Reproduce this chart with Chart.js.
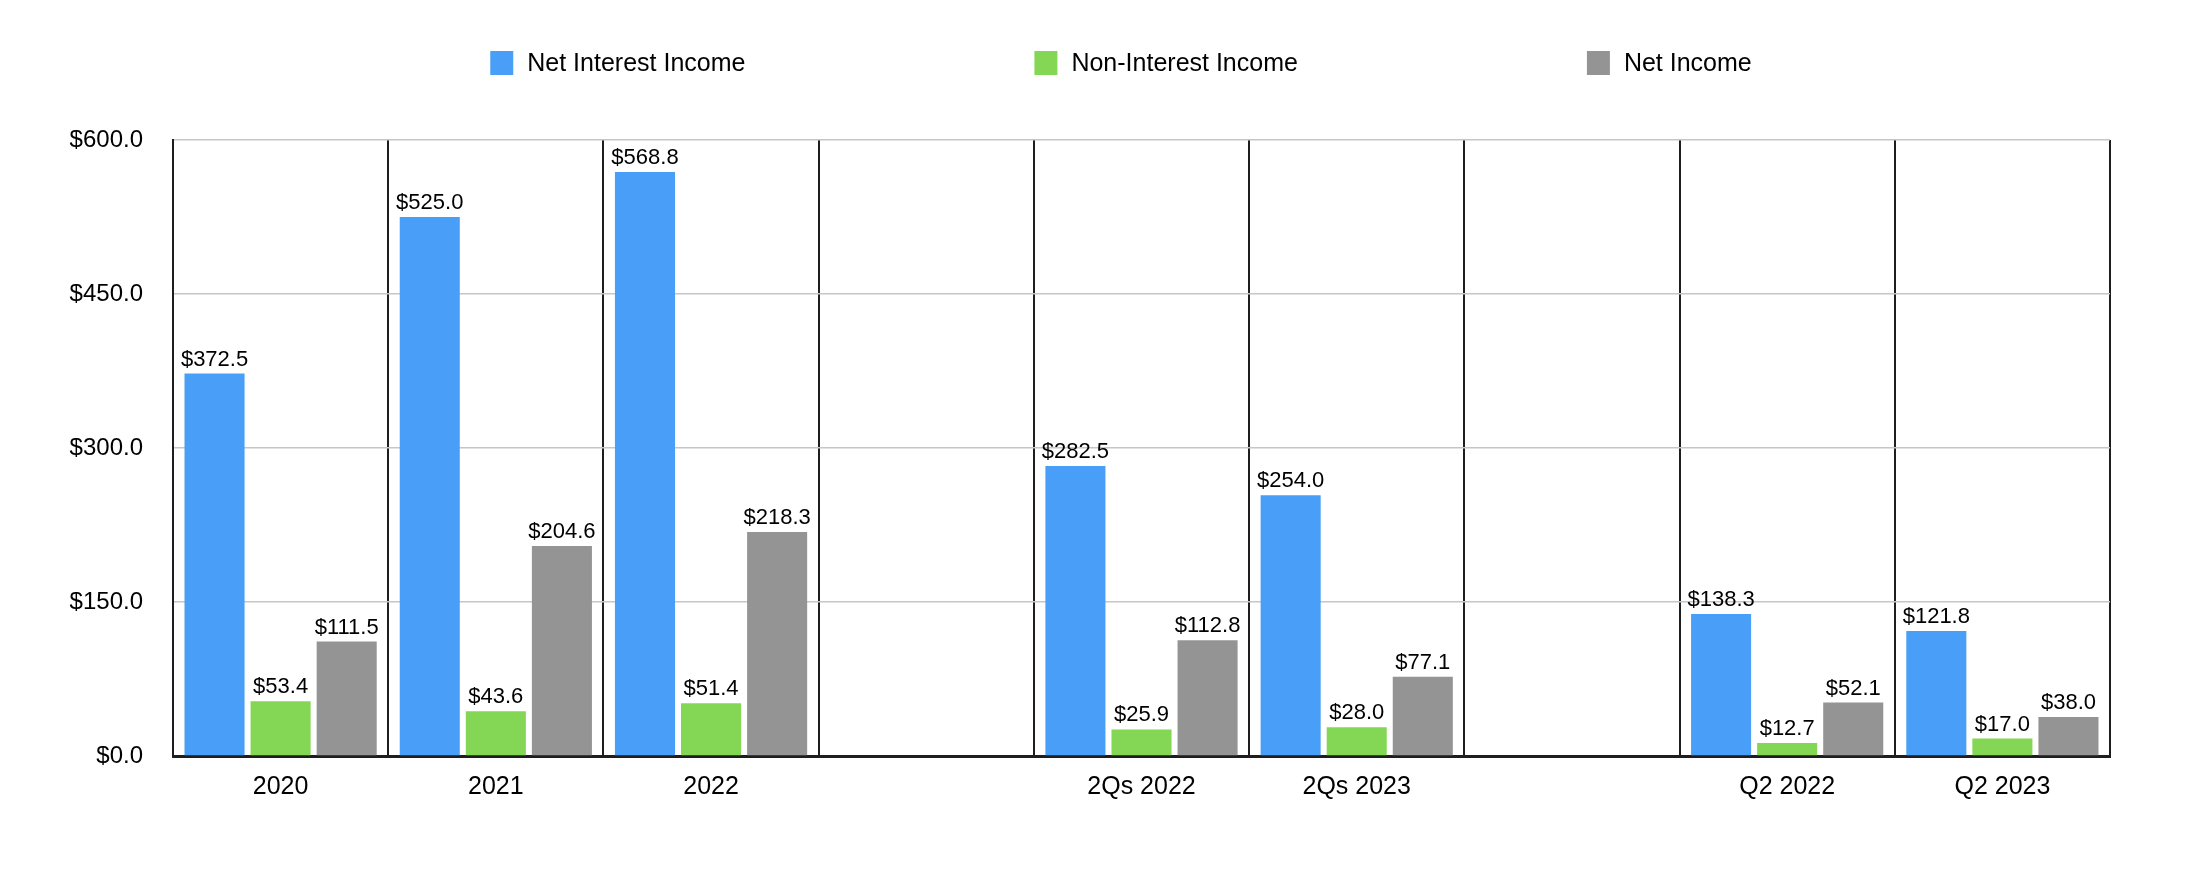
<!DOCTYPE html>
<html>
<head>
<meta charset="utf-8">
<script src="https://cdn.jsdelivr.net/npm/chart.js@4.4.0/dist/chart.umd.min.js"></script>
<style>
  html, body { margin: 0; padding: 0; background: #ffffff; }
  #wrap { position: relative; width: 2198px; height: 878px; }
</style>
</head>
<body>
<div id="wrap"><canvas id="c"></canvas></div>
<script>
const categories = ['2020', '2021', '2022', '', '2Qs 2022', '2Qs 2023', ' ', 'Q2 2022', 'Q2 2023'];
const netInterestIncome = [372.5, 525.0, 568.8, null, 282.5, 254.0, null, 138.3, 121.8];
const nonInterestIncome = [53.4, 43.6, 51.4, null, 25.9, 28.0, null, 12.7, 17.0];
const netIncome = [111.5, 204.6, 218.3, null, 112.8, 77.1, null, 52.1, 38.0];
const seriesNames = ['Net Interest Income', 'Non-Interest Income', 'Net Income'];
const seriesColors = ['#499ff7', '#84d655', '#949494'];
const yTicks = [0, 150, 300, 450, 600];

const FONT = '"Liberation Sans", Arial, Helvetica, sans-serif';

const valueLabels = {
  id: 'valueLabels',
  afterDatasetsDraw(chart) {
    const ctx = chart.ctx;
    ctx.save();
    ctx.font = '22px ' + FONT;
    ctx.fillStyle = '#000';
    ctx.textAlign = 'center';
    ctx.textBaseline = 'alphabetic';
    chart.data.datasets.forEach((ds, i) => {
      const meta = chart.getDatasetMeta(i);
      meta.data.forEach((el, j) => {
        const v = ds.data[j];
        if (v === null || v === undefined) return;
        ctx.fillText('$' + v.toFixed(1), el.x, el.y - 8);
      });
    });
    ctx.restore();
  }
};

const topLegend = {
  id: 'topLegend',
  afterDraw(chart) {
    const ctx = chart.ctx;
    ctx.save();
    ctx.font = '25px ' + FONT;
    const boxW = 23, boxH = 24, boxGap = 14, itemGap = 289;
    const items = chart.data.datasets.map(ds => ({ label: ds.label, color: ds.backgroundColor, w: ctx.measureText(ds.label).width }));
    let total = 0;
    items.forEach((it, i) => { total += boxW + boxGap + it.w + (i < items.length - 1 ? itemGap : 0); });
    const cy = 63;
    let x = 1121 - total / 2;
    ctx.textBaseline = 'middle';
    ctx.textAlign = 'left';
    items.forEach(it => {
      ctx.fillStyle = it.color;
      ctx.fillRect(x, cy - boxH / 2, boxW, boxH);
      ctx.fillStyle = '#000';
      ctx.fillText(it.label, x + boxW + boxGap, cy + 1);
      x += boxW + boxGap + it.w + itemGap;
    });
    ctx.restore();
  }
};

new Chart(document.getElementById('c'), {
  type: 'bar',
  data: {
    labels: categories,
    datasets: [
      { label: seriesNames[0], data: netInterestIncome, backgroundColor: seriesColors[0] },
      { label: seriesNames[1], data: nonInterestIncome, backgroundColor: seriesColors[1] },
      { label: seriesNames[2], data: netIncome, backgroundColor: seriesColors[2] }
    ]
  },
  options: {
    responsive: true,
    maintainAspectRatio: false,
    animation: false,
    categoryPercentage: 0.921,
    barPercentage: 0.909,
    layout: { padding: { top: 140, right: 88, left: 0, bottom: 0 } },
    plugins: { legend: { display: false }, tooltip: { enabled: false } },
    scales: {
      x: {
        offset: true,
        grid: { offset: true, color: '#1e1e1e', lineWidth: 2, drawTicks: false },
        border: { display: true, color: '#1e1e1e', width: 3 },
        ticks: { color: '#000', font: { family: FONT, size: 25 }, padding: 16, autoSkip: false, maxRotation: 0 },
        afterFit(s) { s.height = 122; }
      },
      y: {
        min: 0, max: 600,
        afterBuildTicks(s) { s.ticks = yTicks.map(v => ({ value: v })); },
        grid: { color: '#c6c6c6', lineWidth: 1.5, drawTicks: false },
        border: { display: true, color: '#1e1e1e', width: 2 },
        ticks: { color: '#000', font: { family: FONT, size: 24 }, padding: 30, callback: v => '$' + Number(v).toFixed(1) },
        afterFit(s) { s.width = 173; }
      }
    }
  },
  plugins: [valueLabels, topLegend]
});
</script>
</body>
</html>
